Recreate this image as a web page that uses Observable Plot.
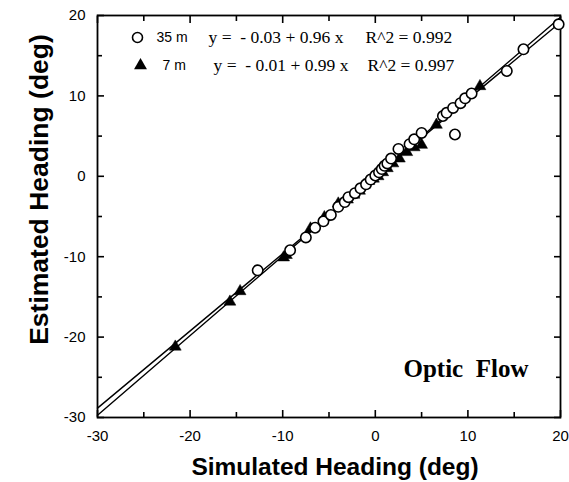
<!DOCTYPE html>
<html>
<head>
<meta charset="utf-8">
<script src="https://cdn.jsdelivr.net/npm/d3@7"></script>
<script src="https://cdn.jsdelivr.net/npm/@observablehq/plot@0.6"></script>
<style>
  html, body { margin: 0; padding: 0; background: #fff; }
  svg text { white-space: pre; }
</style>
</head>
<body>
<div id="chart"></div>
<script>
// 35 m condition (open circles)
const far_x = [-12.7, -9.2, -7.5, -6.5, -5.6, -4.8, -4.0, -3.3, -2.9, -2.2, -1.6, -1.0, -0.5, 0.0, 0.4, 0.7, 1.0, 1.3, 1.7, 2.5, 3.7, 4.2, 5.0, 7.3, 7.7, 8.4, 9.2, 9.7, 10.4, 14.2, 16.0, 19.8, 8.6];
const far_y = [-11.7, -9.2, -7.6, -6.4, -5.6, -4.8, -3.8, -3.2, -2.6, -2.1, -1.5, -1.0, -0.4, 0.1, 0.5, 0.9, 1.3, 1.6, 2.2, 3.4, 4.0, 4.6, 5.4, 7.5, 7.9, 8.5, 9.1, 9.7, 10.3, 13.1, 15.8, 18.9, 5.2];
// 7 m condition (filled triangles)
const near_x = [-21.6, -15.7, -14.6, -9.9, -9.6, -7.0, -5.5, -4.0, -3.0, -2.3, -1.7, -1.2, -0.7, -0.2, 0.3, 0.8, 1.3, 1.9, 2.6, 3.4, 4.2, 5.0, 6.6, 11.3];
const near_y = [-21.2, -15.6, -14.3, -10.1, -9.8, -6.5, -5.1, -3.4, -2.9, -2.3, -1.8, -1.1, -0.6, -0.3, 0.0, 0.5, 1.0, 1.6, 2.2, 3.0, 3.6, 3.9, 6.4, 11.2];

// regression fits
const fitNames = ["35 m", "7 m"];
const fitIntercepts = [-0.03, -0.01];
const fitSlopes = [0.96, 0.99];
const fitEquations = ["y =  - 0.03 + 0.96 x", "y =  - 0.01 + 0.99 x"];
const fitR2 = ["R^2 = 0.992", "R^2 = 0.997"];

const xDomain = [-30, 20];
const yDomain = [-30, 20];
const majorTicks = [-30, -20, -10, 0, 10, 20];
const minorTicks = [-25, -15, -5, 5, 15];
const xTitle = "Simulated Heading (deg)";
const yTitle = "Estimated Heading (deg)";
const panelTitle = "Optic  Flow";

const farPts = far_x.map((x, i) => ({x, y: far_y[i]}));
const nearPts = near_x.map((x, i) => ({x, y: near_y[i]}));
const fitLines = fitNames.flatMap((name, i) =>
  xDomain.map(x => ({name, x, y: fitIntercepts[i] + fitSlopes[i] * x})));
const legend = fitNames.map((name, i) => ({name, eq: fitEquations[i], r2: fitR2[i], row: i}));

const serif = "'Liberation Serif', 'Times New Roman', serif";
const sans = "'Liberation Sans', Arial, Helvetica, sans-serif";

const major = 7, minor = 5;
const fmt = d => String(d);
const tk = {text: null, label: null, stroke: "#000", strokeWidth: 1.6, strokeOpacity: 1};

const chart = Plot.plot({
  width: 569,
  height: 482,
  marginLeft: 97,
  marginRight: 9,
  marginTop: 15,
  marginBottom: 65,
  style: {fontFamily: sans, fontSize: "15px", color: "#000", background: "#fff"},
  x: {domain: xDomain},
  y: {domain: yDomain},
  marks: [
    // inward ticks on all four sides (outward ticks shifted inside by their length)
    Plot.axisX(majorTicks, {...tk, anchor: "bottom", tickSize: major, dy: -major}),
    Plot.axisX(minorTicks, {...tk, anchor: "bottom", tickSize: minor, dy: -minor}),
    Plot.axisX(majorTicks, {...tk, anchor: "top", tickSize: major, dy: major}),
    Plot.axisX(minorTicks, {...tk, anchor: "top", tickSize: minor, dy: minor}),
    Plot.axisY(majorTicks, {...tk, anchor: "left", tickSize: major, dx: major}),
    Plot.axisY(minorTicks, {...tk, anchor: "left", tickSize: minor, dx: minor}),
    Plot.axisY(majorTicks, {...tk, anchor: "right", tickSize: major, dx: -major}),
    Plot.axisY(minorTicks, {...tk, anchor: "right", tickSize: minor, dx: -minor}),
    // tick labels
    Plot.axisX(majorTicks, {anchor: "bottom", tickSize: 0, tickPadding: 13, fontSize: 15, tickFormat: fmt, label: null}),
    Plot.axisY(majorTicks, {anchor: "left", tickSize: 0, tickPadding: 12, fontSize: 15, tickFormat: fmt, label: null}),
    // axis titles
    Plot.text([xTitle], {frameAnchor: "bottom", dx: 6, dy: 50, lineAnchor: "middle", textAnchor: "middle", fontSize: 24.5, fontWeight: "bold", fontFamily: sans}),
    Plot.text([yTitle], {frameAnchor: "left", dx: -58, dy: -27, rotate: -90, lineAnchor: "middle", textAnchor: "middle", fontSize: 26.5, fontWeight: "bold", fontFamily: sans}),
    Plot.frame({stroke: "#000", strokeWidth: 1.8}),
    // fit lines
    Plot.line(fitLines, {x: "x", y: "y", z: "name", stroke: "#000", strokeWidth: 1.4}),
    // data
    Plot.dot(nearPts, {x: "x", y: "y", symbol: "triangle", r: 4.4, fill: "#000", stroke: "#000", strokeWidth: 0.5}),
    Plot.dot(farPts, {x: "x", y: "y", symbol: "circle", r: 5.2, fill: "#fff", stroke: "#000", strokeWidth: 1.6}),
    // legend
    Plot.dot(legend, {filter: d => d.row === 0, frameAnchor: "top-left", dx: 40, dy: 22, symbol: "circle", r: 5, fill: "#fff", stroke: "#000", strokeWidth: 1.6}),
    Plot.dot(legend, {filter: d => d.row === 1, frameAnchor: "top-left", dx: 43, dy: 50, symbol: "triangle", r: 4.8, fill: "#000"}),
    Plot.text(legend, {filter: d => d.row === 0, frameAnchor: "top-left", text: "name", dx: 59, dy: 22, lineAnchor: "middle", fontSize: 14, textAnchor: "start", fontFamily: sans}),
    Plot.text(legend, {filter: d => d.row === 1, frameAnchor: "top-left", text: "name", dx: 65, dy: 50, lineAnchor: "middle", fontSize: 14, textAnchor: "start", fontFamily: sans}),
    Plot.text(legend, {filter: d => d.row === 0, frameAnchor: "top-left", text: "eq", dx: 111, dy: 22, lineAnchor: "middle", fontSize: 17.5, textAnchor: "start", fontFamily: serif}),
    Plot.text(legend, {filter: d => d.row === 1, frameAnchor: "top-left", text: "eq", dx: 116, dy: 50, lineAnchor: "middle", fontSize: 17.5, textAnchor: "start", fontFamily: serif}),
    Plot.text(legend, {filter: d => d.row === 0, frameAnchor: "top-left", text: "r2", dx: 268, dy: 22, lineAnchor: "middle", fontSize: 17.5, textAnchor: "start", fontFamily: serif}),
    Plot.text(legend, {filter: d => d.row === 1, frameAnchor: "top-left", text: "r2", dx: 270, dy: 50, lineAnchor: "middle", fontSize: 17.5, textAnchor: "start", fontFamily: serif}),
    Plot.text([panelTitle], {frameAnchor: "bottom-right", dx: -32, dy: -49, lineAnchor: "middle", fontSize: 25, fontWeight: "bold", fontFamily: serif, textAnchor: "end"})
  ]
});

document.getElementById("chart").appendChild(chart);
</script>
</body>
</html>
